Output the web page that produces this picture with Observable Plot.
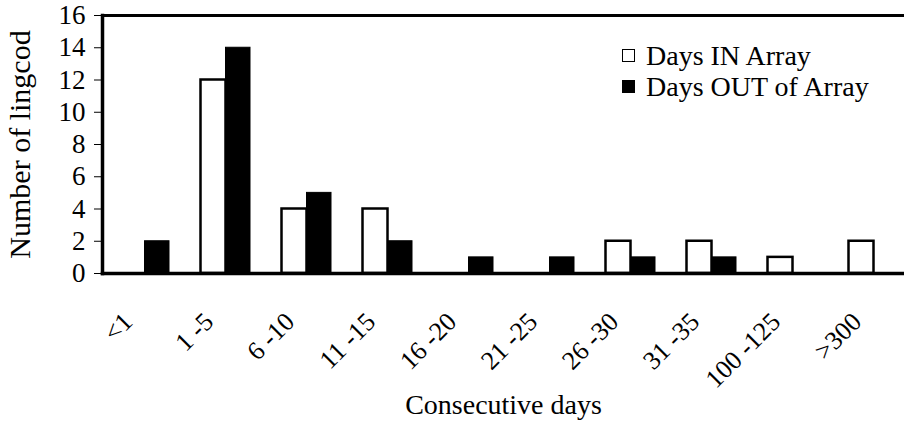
<!DOCTYPE html>
<html><head><meta charset="utf-8">
<script src="https://cdn.jsdelivr.net/npm/d3@7"></script>
<script src="https://cdn.jsdelivr.net/npm/@observablehq/plot@0.6"></script>
<style>
body{margin:0;background:#fff;overflow:hidden;}
#wrap{position:relative;width:904px;height:427px;font-family:"Liberation Serif","Times New Roman",serif;}
#wrap svg, #wrap svg text{font-family:"Liberation Serif","Times New Roman",serif !important;}
.legend{position:absolute;left:622px;top:40px;font-size:28px;color:#000;line-height:31px;}
.legend .row{display:flex;align-items:center;height:31px;}
.sw{width:11px;height:11px;border:1.5px solid #000;margin-right:11px;box-sizing:content-box;}
</style></head><body><div id="wrap"></div>
<script>
const categories = ["<1","1 -5","6 -10","11 -15","16 -20","21 -25","26 -30","31 -35","100 -125",">300"];
const daysIn  = [0,12,4,4,0,0,2,2,1,2];
const daysOut = [2,14,5,2,1,1,1,1,0,0];
const seriesNames = ["Days IN Array","Days OUT of Array"];
const seriesFill = ["#fff","#000"];
const yTicks = [0,2,4,6,8,10,12,14,16];
const yTitle = "Number of lingcod";
const xTitle = "Consecutive days";

const rows = [];
categories.forEach((c,i)=>{
  rows.push({cat:c, series:seriesNames[0], value:daysIn[i]});
  rows.push({cat:c, series:seriesNames[1], value:daysOut[i]});
});
const inRows = rows.filter(d=>d.series===seriesNames[0] && d.value>0);
const outRows = rows.filter(d=>d.series===seriesNames[1] && d.value>0);

const chart = Plot.plot({
  width: 904, height: 427,
  marginLeft: 102, marginTop: 15, marginRight: 0, marginBottom: 154,
  style: {fontFamily: '"Liberation Serif","Times New Roman",serif', color:"#000", background:"#fff"},
  x: {domain: categories, range: [103.5, 913.5], padding: 0},
  y: {domain: [0,16]},
  marks: [
    Plot.barY(inRows, {x:"cat", y:"value", fill: seriesFill[0], stroke:"#000", strokeWidth:2.5, insetLeft:15.5, insetRight:40.5}),
    Plot.barY(outRows, {x:"cat", y:"value", fill: seriesFill[1], stroke:"#000", strokeWidth:1, insetLeft:40.5, insetRight:16}),
    Plot.frame({anchor:"left", strokeWidth:3.5}),
    Plot.frame({anchor:"top", strokeWidth:3}),
    Plot.frame({anchor:"bottom", strokeWidth:3.5}),
    Plot.axisY({ticks: yTicks, tickSize: 8, tickPadding: 9, fontSize: 27, label: null}),
    Plot.axisY({ticks: [], label: yTitle, labelAnchor:"center", labelArrow:"none", labelOffset: 94, dx: 8, fontSize: 30}),
    Plot.axisX({tickSize: 0, tickRotate: -45, tickPadding: 16, dx: -17, dy: 28, fontSize: 26, label: null}),
    Plot.axisX({ticks: [], label: xTitle, labelAnchor:"center", labelArrow:"none", labelOffset: 140, fontSize: 28})
  ]
});
const wrap = document.getElementById("wrap");
wrap.appendChild(chart);
const leg = document.createElement("div");
leg.className = "legend";
seriesNames.forEach((n,i)=>{
  const r = document.createElement("div"); r.className="row";
  const s = document.createElement("span"); s.className="sw"; s.style.background = seriesFill[i];
  const t = document.createElement("span"); t.textContent = n;
  r.appendChild(s); r.appendChild(t); leg.appendChild(r);
});
wrap.appendChild(leg);
</script></body></html>
